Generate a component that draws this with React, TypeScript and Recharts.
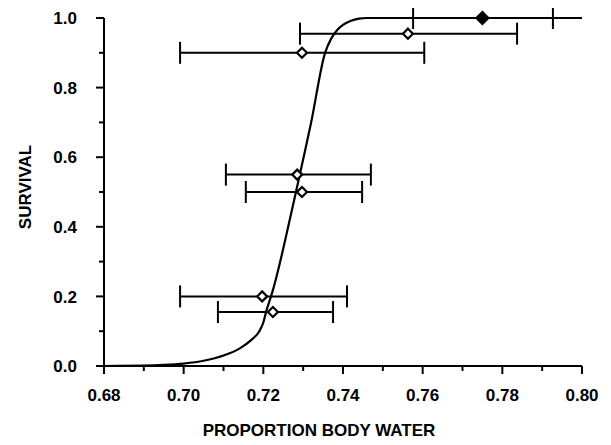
import React from "react";
import { ComposedChart, Line, Scatter, XAxis, YAxis, ErrorBar, Label } from "recharts";

// Fitted survival curve
const curveX = [0.68, 0.69, 0.695, 0.7, 0.705, 0.71, 0.714, 0.717, 0.719, 0.72, 0.7208, 0.7222, 0.7277, 0.7305, 0.732, 0.7355, 0.737, 0.7385, 0.74, 0.742, 0.744, 0.746, 0.76, 0.78, 0.8];
const curveY = [0, 0.001, 0.003, 0.007, 0.015, 0.03, 0.05, 0.075, 0.1, 0.125, 0.16, 0.21, 0.475, 0.62, 0.7, 0.9, 0.94, 0.965, 0.98, 0.992, 0.998, 1.0, 1.0, 1.0, 1.0];

// Observed points with horizontal error bars
const pointX = [0.775, 0.7563, 0.7297, 0.7285, 0.7297, 0.7197, 0.7224];
const pointY = [1.0, 0.955, 0.9, 0.55, 0.5, 0.2, 0.155];
const pointLow = [0.7576, 0.7292, 0.6991, 0.7106, 0.7156, 0.6991, 0.7086];
const pointHigh = [0.7927, 0.7837, 0.7604, 0.747, 0.7448, 0.741, 0.7375];
const pointFilled = [true, false, false, false, false, false, false];

const xTicks = [0.68, 0.69, 0.7, 0.71, 0.72, 0.73, 0.74, 0.75, 0.76, 0.77, 0.78, 0.79, 0.8];
const yTicks = [0, 0.1, 0.2, 0.3, 0.4, 0.5, 0.6, 0.7, 0.8, 0.9, 1.0];

const curveData = curveX.map((x, i) => ({ x, y: curveY[i] }));
const pointData = pointX.map((x, i) => ({
  x,
  y: pointY[i],
  xErr: [x - pointLow[i], pointHigh[i] - x],
  filled: pointFilled[i],
}));

const FONT = "'Liberation Sans', Arial, Helvetica, sans-serif";

const YTick = (props: any) => {
  const { x, y, payload } = props;
  const v = payload.value as number;
  const major = Math.round(v * 10) % 2 === 0;
  return (
    <g>
      <line x1={x} x2={x - (major ? 8 : 5)} y1={y} y2={y} stroke="#000" strokeWidth={2} />
      {major && (
        <text x={x - 27} y={y} dy="0.36em" textAnchor="end" fontFamily={FONT} fontWeight="bold" fontSize={17} fill="#000">
          {v.toFixed(1)}
        </text>
      )}
    </g>
  );
};

const XTick = (props: any) => {
  const { x, y, payload } = props;
  const v = payload.value as number;
  const major = Math.round(v * 100) % 2 === 0;
  return (
    <g>
      <line x1={x} x2={x} y1={y} y2={y + (major ? 8 : 5)} stroke="#000" strokeWidth={2} />
      {major && (
        <text x={x} y={y + 29} dy="0.36em" textAnchor="middle" fontFamily={FONT} fontWeight="bold" fontSize={17} fill="#000">
          {v.toFixed(2)}
        </text>
      )}
    </g>
  );
};

const Diamond = (props: any) => {
  const { cx, cy, payload } = props;
  const filled = payload && payload.filled;
  const r = filled ? 6 : 5;
  const d = `M${cx},${cy - r} L${cx + r},${cy} L${cx},${cy + r} L${cx - r},${cy} Z`;
  return <path d={d} fill={filled ? "#000" : "#fff"} stroke="#000" strokeWidth={2.2} />;
};

export default function App() {
  return (
    <ComposedChart width={603} height={437} margin={{ top: 10, right: 29, bottom: 39, left: 36 }}>
      <XAxis
        type="number"
        dataKey="x"
        domain={[0.68, 0.8]}
        ticks={xTicks}
        interval={0}
        tickSize={0}
        tickMargin={0}
        tickLine={false}
        tick={<XTick />}
        height={40}
        axisLine={{ stroke: "#000", strokeWidth: 2 }}
        allowDataOverflow
      >
        <Label
          content={(p: any) => {
            const vb = p.viewBox || { x: 96, y: 358, width: 478, height: 40 };
            return (
              <text x={vb.x + vb.width / 2 - 24} y={vb.y + 64} dy="0.36em" textAnchor="middle" fontFamily={FONT} fontWeight="bold" fontSize={17} fill="#000">
                PROPORTION BODY WATER
              </text>
            );
          }}
        />
      </XAxis>
      <YAxis
        type="number"
        domain={[0, 1]}
        ticks={yTicks}
        interval={0}
        tickSize={0}
        tickMargin={0}
        tickLine={false}
        tick={<YTick />}
        width={60}
        axisLine={{ stroke: "#000", strokeWidth: 2 }}
      >
        <Label
          content={(p: any) => {
            const vb = p.viewBox || { x: 36, y: 10, width: 60, height: 348 };
            const cx = vb.x - 19;
            const cy = vb.y + vb.height / 2 - 5;
            return (
              <text x={cx} y={cy} dy="0.36em" textAnchor="middle" transform={`rotate(-90 ${cx} ${cy})`} fontFamily={FONT} fontWeight="bold" fontSize={17} fill="#000">
                SURVIVAL
              </text>
            );
          }}
        />
      </YAxis>
      <Line data={curveData} dataKey="y" type="monotone" stroke="#000" strokeWidth={2.2} dot={false} isAnimationActive={false} />
      <Scatter data={pointData} dataKey="y" shape={<Diamond />} isAnimationActive={false}>
        <ErrorBar dataKey="xErr" direction="x" width={11} strokeWidth={2} stroke="#000" isAnimationActive={false} />
      </Scatter>
    </ComposedChart>
  );
}
